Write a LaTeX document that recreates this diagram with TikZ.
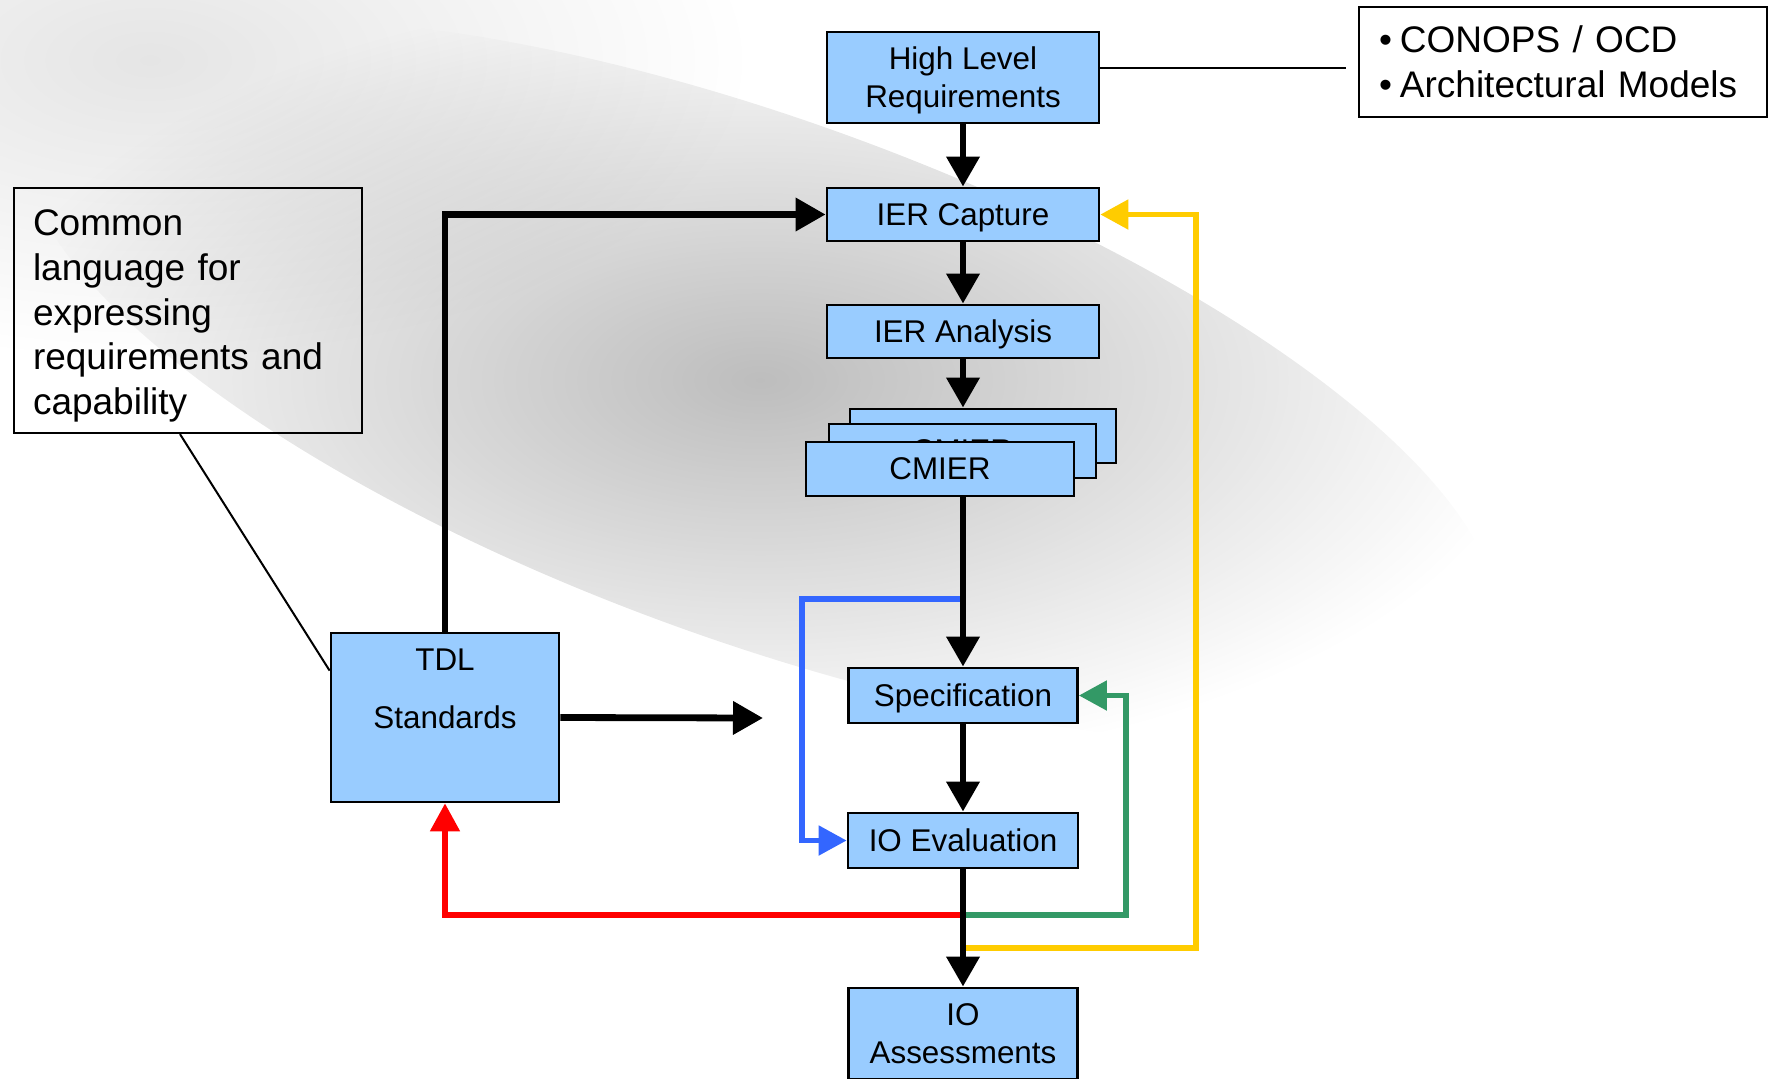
\documentclass[tikz,border=0pt]{standalone}
\usepackage{fontspec}
\setmainfont{Liberation Sans}
\usetikzlibrary{arrows.meta, positioning, fadings}

\definecolor{boxblue}{HTML}{99CCFF}
\definecolor{linkblue}{HTML}{3366FF}
\definecolor{linkgreen}{HTML}{339966}
\definecolor{linkred}{HTML}{FF0000}
\definecolor{linkyellow}{HTML}{FFCC00}

\tikzfading[name=glow, inner color=transparent!0, outer color=transparent!100]

\tikzset{
    block/.style = {draw, line width=1.4pt, fill=boxblue, align=center, inner sep=0pt, text depth=0pt,
                    font=\fontsize{15.7}{19}\selectfont},
    note/.style = {draw, line width=1.1pt, align=left, inner ysep=0pt},
    flow/.style = {line width=3.4pt, -{Triangle[length=15pt, width=16pt]}},
    feedback/.style = {line width=2.6pt, -{Triangle[length=14pt, width=14.5pt]}},
}

\begin{document}
\begin{tikzpicture} [x=0.5pt, y=-0.5pt, node distance=1cm, on grid]
        \useasboundingbox (0,0) rectangle (1769,1078);
        % background swoosh
        \begin{scope}
            \clip (0,0) rectangle (1769,1078);
            \fill [white] (0,0) rectangle (1769,1078);
            \fill [black, opacity=0.10, path fading=glow] (150,60) ellipse (600 and 300);
            \fill [black, opacity=0.26, path fading=glow, rotate around={-20:(760,380)}] (760,380) ellipse (780 and 260);
        \end{scope}

        \node (hlr) [block, minimum width=136pt, minimum height=45.5pt] at (963,77.5) {High Level\\Requirements};
        \node (iercap) [block, minimum width=136pt, minimum height=26.5pt, below=68.5pt of hlr] {IER Capture};
        \node (iera) [block, minimum width=136pt, minimum height=26.5pt, below=58.5pt of iercap] {IER Analysis};
        \node (cmier3) [block, minimum width=133pt, minimum height=27pt, below right=52.25pt and 10pt of iera] {CMIER};
        \node (cmier2) [block, minimum width=133.5pt, minimum height=27pt, below left=7.5pt and 10.25pt of cmier3] {CMIER};
        \node (cmier) [block, minimum width=134pt, minimum height=27pt, below left=9pt and 11.25pt of cmier2] {CMIER};
        \node (spec) [block, minimum width=114.5pt, minimum height=27.5pt, below=182pt of iera] {Specification};
        \node (ioe) [block, minimum width=115pt, minimum height=27.5pt, below=72.5pt of spec] {IO Evaluation};
        \node (ioa) [block, minimum width=114.5pt, minimum height=45.5pt, below=96.5pt of ioe] {IO\\Assessments};
        \node (tdl) [block, minimum width=114pt, minimum height=84.5pt, text depth=28.6pt] at (445,717.5) {TDL\\[10pt]Standards};

        \node (ocd) [note, minimum height=55pt, text width=184pt, inner xsep=10pt,
                     font=\fontsize{18.5}{22.5}\selectfont] at (1563,62) {•\hspace{4pt}CONOPS / OCD\\•\hspace{4pt}Architectural Models};
        \node (common) [note, minimum height=122.5pt, text width=155pt, inner xsep=9.5pt, text depth=88pt,
                        font=\fontsize{18.5}{22.4}\selectfont] at (188,310.5) {Common\\language for\\expressing\\requirements and\\capability};

        \coordinate (split) at (963,599);
        \coordinate (fork) at (963,915);
        \coordinate (yfork) at (963,948);
        \coordinate (tdlout) at (763,718);

        % loops back
        \draw [feedback, linkblue] (split) -- ++(-161,0) |- (ioe.west);
        \draw [feedback, linkred] (fork) -| (tdl.south);
        \draw [feedback, linkgreen] (fork) -- ++(163,0) |- (spec.east);
        \draw [feedback, linkyellow] (yfork) -- ++(233,0) |- (iercap.east);

        % main flow
        \draw [flow] (hlr) -- (iercap);
        \draw [flow] (iercap) -- (iera);
        \draw [flow] (iera.south) -- (iera.south |- cmier3.north);
        \draw [flow] (spec.north |- cmier.south) -- (spec.north);
        \draw [flow] (spec) -- (ioe);
        \draw [flow] (ioe) -- (ioa);
        \draw [flow] (tdl.north) |- (iercap.west);
        \draw [flow] (tdl.east) -- (tdlout);

        \draw [line width=1pt] ([xshift=-4pt]common.south) -- ([yshift=-19.5pt]tdl.north west);
        \draw [line width=1.2pt, shorten >=6pt] ([yshift=4.75pt]hlr.east) -- ([yshift=4.75pt]hlr.east -| ocd.west);
    \end{tikzpicture}
\end{document}
